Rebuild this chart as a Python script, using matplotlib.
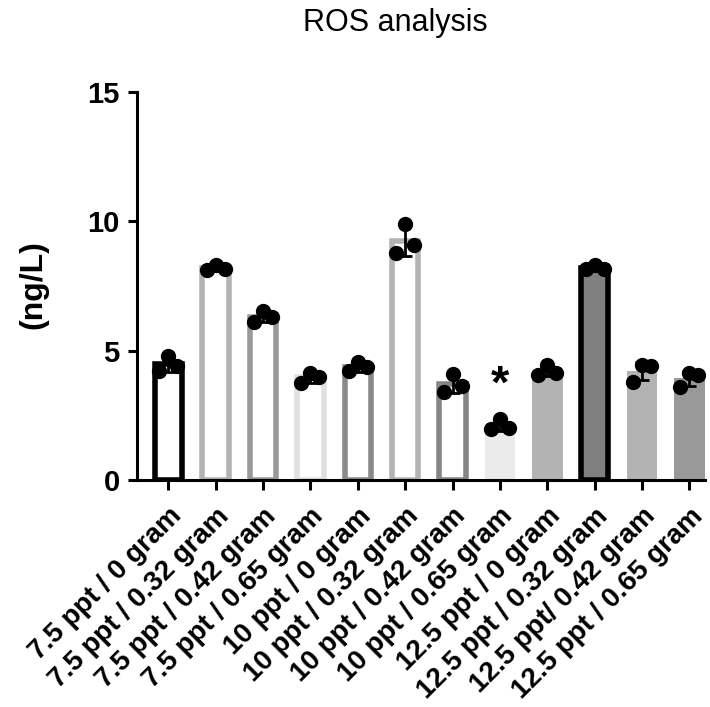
import numpy as np
from matplotlib import pyplot as plt

plt.rcParams['font.family'] = ['Liberation Sans', 'DejaVu Sans']

groups = ['7.5 ppt / 0 gram', '7.5 ppt / 0.32 gram', '7.5 ppt / 0.42 gram', '7.5 ppt / 0.65 gram',
          '10 ppt / 0 gram', '10 ppt / 0.32 gram', '10 ppt / 0.42 gram', '10 ppt / 0.65 gram',
          '12.5 ppt / 0 gram', '12.5 ppt / 0.32 gram', '12.5 ppt/ 0.42 gram', '12.5 ppt / 0.65 gram']

# three replicates per group (left, middle, right point)
rep1 = [4.2, 8.10, 6.10, 3.75, 4.20, 8.77, 3.40, 1.98, 4.05, 8.15, 3.80, 3.60]
rep2 = [4.8, 8.30, 6.55, 4.15, 4.55, 9.90, 4.10, 2.35, 4.45, 8.30, 4.45, 4.15]
rep3 = [4.4, 8.15, 6.30, 4.00, 4.35, 9.10, 3.65, 2.02, 4.15, 8.15, 4.40, 4.05]

significant = [7]  # group index marked with *

# bar style: (facecolor, edgecolor)
styles = [('white', 'black'), ('white', '#b3b3b3'), ('white', '#999999'), ('white', '#e0e0e0'),
          ('white', '#8a8a8a'), ('white', '#b3b3b3'), ('white', '#858585'), ('#ebebeb', None),
          ('#b3b3b3', None), ('#808080', 'black'), ('#b3b3b3', None), ('#999999', None)]

reps = np.array([rep1, rep2, rep3])
means = reps.mean(axis=0)
sds = reps.std(axis=0, ddof=1)
x = np.arange(len(groups))

fig = plt.figure(figsize=(7.1, 7.07), dpi=100)
ax = fig.add_axes([0.193, 0.321, 0.800, 0.549])

for i in range(len(groups)):
    fc, ec = styles[i]
    if ec is None:
        ax.bar(x[i], means[i], width=0.65, color=fc, zorder=2)
    else:
        ax.bar(x[i], means[i], width=0.56, color=fc, edgecolor=ec, linewidth=4, zorder=2)

ax.errorbar(x, means, yerr=sds, fmt='none', ecolor='black', elinewidth=2,
            capsize=5, capthick=2, zorder=3)

offsets = [-0.19, 0.0, 0.19]
for k in range(3):
    ax.plot(x + offsets[k], reps[k], 'o', color='black', markersize=10, zorder=4)

for i in significant:
    ax.text(x[i], reps[:, i].max() + 0.45, '*', ha='center', va='bottom',
            fontsize=34, fontweight='bold')

ax.set_ylim(0, 15)
ax.set_xlim(-0.66, 11.33)
ax.set_yticks([0, 5, 10, 15])
ax.set_xticks(x)
ax.set_xticklabels(groups, rotation=45, ha='right', rotation_mode='anchor',
                   fontsize=20, fontweight='bold')
for lab in ax.get_yticklabels():
    lab.set_fontweight('bold')
ax.tick_params(axis='y', labelsize=21, width=2.2, length=6.5, pad=6)
ax.tick_params(axis='x', width=2.2, length=7.5, pad=9)
for s in ['top', 'right']:
    ax.spines[s].set_visible(False)
for s in ['left', 'bottom']:
    ax.spines[s].set_linewidth(2.2)

fig.text(0.047, 0.598, '(ng/L)', rotation=90, ha='center', va='center',
         fontsize=23, fontweight='bold')
fig.text(0.557, 0.968, 'ROS analysis', ha='center', va='center', fontsize=22)

fig.savefig('out.png', dpi=100)
